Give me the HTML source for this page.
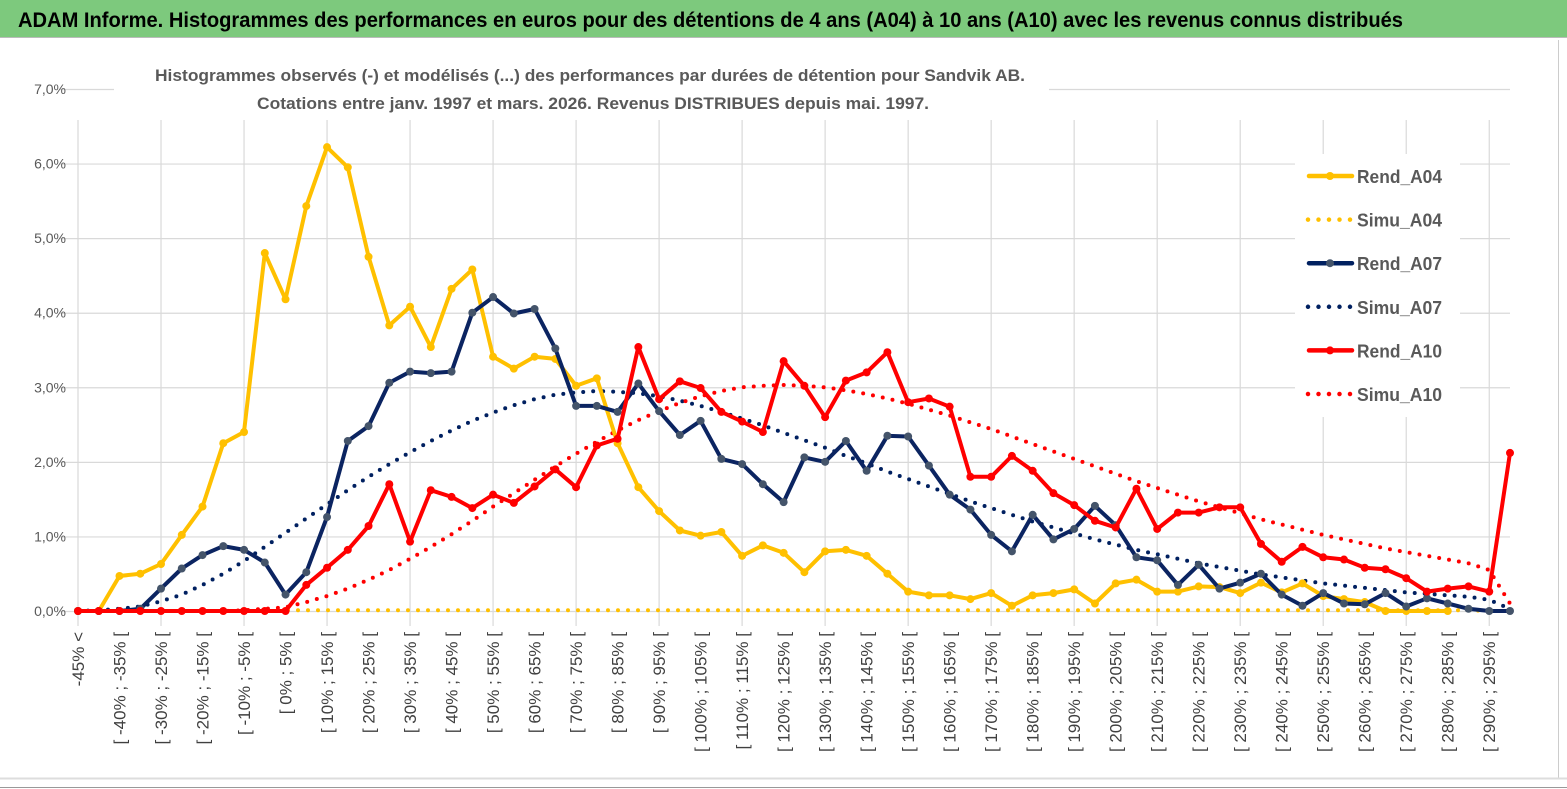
<!DOCTYPE html>
<html><head><meta charset="utf-8"><style>
html,body{margin:0;padding:0;background:#fff;}
svg{display:block;font-family:"Liberation Sans",sans-serif;}
</style></head><body>
<svg id="chart" width="1567" height="789" viewBox="0 0 1567 789" xmlns="http://www.w3.org/2000/svg">
<rect x="0" y="0" width="1567" height="789" fill="#fff"/>
<rect x="0" y="0" width="1567" height="37" fill="#7dc97d"/>
<line x1="0" y1="37.5" x2="1567" y2="37.5" stroke="#bbb" stroke-width="1"/>
<text x="18" y="27" font-size="21" font-weight="bold" fill="#000" textLength="1385" lengthAdjust="spacingAndGlyphs">ADAM Informe. Histogrammes des performances en euros pour des détentions de 4 ans (A04) à 10 ans (A10) avec les revenus connus distribués</text>
<line x1="1558.5" y1="40" x2="1558.5" y2="778" stroke="#ccc"/>
<line x1="0" y1="778.5" x2="1567" y2="778.5" stroke="#ddd" stroke-width="2"/>
<line x1="0" y1="787.5" x2="1567" y2="787.5" stroke="#999" stroke-width="1"/>
<g id="grid"></g>
<g id="yaxis"></g>
<g id="xaxis"></g>
<rect x="114" y="55" width="935" height="64" fill="#fff"/>
<text x="590" y="81" text-anchor="middle" font-size="17" font-weight="bold" fill="#595959" textLength="870" lengthAdjust="spacingAndGlyphs">Histogrammes observés (-) et modélisés (...) des performances par durées de détention pour Sandvik AB.</text>
<text x="593" y="109" text-anchor="middle" font-size="17" font-weight="bold" fill="#595959" textLength="672" lengthAdjust="spacingAndGlyphs">Cotations entre janv. 1997 et mars. 2026. Revenus DISTRIBUES depuis mai. 1997.</text>
<rect x="1295" y="154" width="165" height="263" fill="#fff"/>
<g id="series"></g>
<g id="legend"></g>
</svg>
<script>
const rendA04 = [0,0,0.47,0.5,0.63,1.02,1.4,2.25,2.4,4.8,4.18,5.43,6.22,5.95,4.75,3.83,4.08,3.54,4.32,4.58,3.41,3.25,3.41,3.38,3.02,3.12,2.25,1.66,1.34,1.08,1.01,1.06,0.74,0.88,0.78,0.52,0.8,0.82,0.74,0.5,0.26,0.21,0.21,0.16,0.24,0.07,0.21,0.24,0.29,0.1,0.37,0.42,0.26,0.26,0.33,0.32,0.24,0.38,0.25,0.37,0.2,0.16,0.12,0.0,0.0,0.0,0.0,null,null,null];
const simuA04 = [0,0,0,0,0,0,0,0,0,0,0.01,0.01,0.01,0.01,0.01,0.01,0.01,0.01,0.01,0.01,0.01,0.01,0.01,0.01,0.01,0.01,0.01,0.01,0.01,0.01,0.01,0.01,0.01,0.01,0.01,0.01,0.01,0.01,0.01,0.01,0.01,0.01,0.01,0.01,0.01,0.01,0.01,0.01,0.01,0.01,0.01,0.01,0.01,0.01,0.01,0.01,0.01,0.01,0.01,0.01,0.01,0.01,0.01,0.01,0.01,0.01,0.01,0.01,0,0];
const rendA07 = [0,0,0,0.03,0.3,0.57,0.75,0.87,0.82,0.65,0.22,0.52,1.26,2.28,2.48,3.06,3.21,3.19,3.21,4.0,4.21,3.99,4.05,3.52,2.75,2.75,2.67,3.05,2.68,2.36,2.55,2.04,1.97,1.7,1.46,2.06,2.0,2.28,1.88,2.35,2.34,1.95,1.56,1.36,1.02,0.8,1.29,0.96,1.1,1.41,1.15,0.72,0.68,0.35,0.62,0.3,0.38,0.5,0.22,0.07,0.24,0.1,0.09,0.24,0.06,0.17,0.1,0.03,0.0,0.0];
const simuA07 = [0,0.01,0.03,0.06,0.13,0.22,0.35,0.5,0.67,0.86,1.05,1.24,1.43,1.62,1.8,1.97,2.13,2.28,2.42,2.55,2.66,2.76,2.84,2.9,2.93,2.95,2.94,2.92,2.88,2.82,2.75,2.67,2.58,2.49,2.39,2.29,2.19,2.08,1.98,1.87,1.77,1.67,1.57,1.47,1.38,1.29,1.2,1.12,1.04,0.96,0.89,0.82,0.76,0.7,0.64,0.59,0.54,0.49,0.45,0.41,0.37,0.34,0.31,0.28,0.25,0.23,0.21,0.19,0.15,0.03];
const rendA10 = [0,0,0,0,0,0,0,0,0,0,0,0.35,0.58,0.82,1.14,1.7,0.93,1.62,1.53,1.38,1.56,1.45,1.67,1.9,1.66,2.22,2.31,3.54,2.84,3.08,2.99,2.67,2.54,2.4,3.35,3.02,2.6,3.09,3.2,3.47,2.8,2.85,2.74,1.8,1.8,2.08,1.88,1.58,1.42,1.21,1.12,1.64,1.1,1.32,1.32,1.39,1.39,0.9,0.66,0.86,0.72,0.69,0.58,0.56,0.44,0.26,0.3,0.33,0.26,2.12];
const simuA10 = [0,0,0,0,0,0,0,0,0.01,0.03,0.05,0.12,0.2,0.3,0.42,0.55,0.7,0.86,1.03,1.21,1.4,1.58,1.76,1.94,2.11,2.27,2.42,2.56,2.68,2.79,2.88,2.95,3.0,3.02,3.03,3.02,3.0,2.96,2.91,2.85,2.78,2.7,2.62,2.53,2.44,2.34,2.24,2.14,2.04,1.94,1.84,1.74,1.65,1.56,1.47,1.39,1.31,1.23,1.16,1.09,1.02,0.96,0.9,0.84,0.79,0.74,0.69,0.64,0.55,0.1];
const yTicks = [0,1,2,3,4,5,6,7];
const yTickLabels = ["0,0%","1,0%","2,0%","3,0%","4,0%","5,0%","6,0%","7,0%"];
const seriesNames = ["Rend_A04","Simu_A04","Rend_A07","Simu_A07","Rend_A10","Simu_A10"];

const NS="http://www.w3.org/2000/svg";
const N = rendA07.length;
const categories = [];
for(let i=0;i<N;i++){
  if(i===0) categories.push("-45% <");
  else { const lo=-45+5*(i-1); categories.push("[ "+lo+"% ; "+(lo+5)+"% ["); }
}
const X0=78, X1=1510, Y0=611, Y7=89;
function xs(i){return X0+i*(X1-X0)/(N-1);}
function ys(v){return Y0-(v/7)*(Y0-Y7);}
function mk(tag,attrs,parent){const e=document.createElementNS(NS,tag);for(const k in attrs)e.setAttribute(k,attrs[k]);parent.appendChild(e);return e;}

const grid=document.getElementById('grid');
yTicks.forEach((t,k)=>{
  const l=mk('line',{x1:60,x2:1510,y1:ys(t)+0.5,y2:ys(t)+0.5,stroke:'#d9d9d9','stroke-width':1.2},grid);
  
  
});
for(let i=0;i<N;i+=4){
  const l=mk('line',{x1:xs(i),x2:xs(i),y1:120,y2:626,stroke:'#d9d9d9','stroke-width':1.2},grid);
  
  
}
const yax=document.getElementById('yaxis');
yTicks.forEach((t,k)=>{
  const tx=mk('text',{x:66,y:ys(t)+5,'text-anchor':'end','font-size':14,fill:'#595959'},yax);
  tx.textContent=yTickLabels[k];
  
  
});
const xax=document.getElementById('xaxis');
categories.forEach((c,i)=>{
  if(i%2) return;
  const x=xs(i)+6, y=632;
  const tx=mk('text',{x:x,y:y,transform:`rotate(-90 ${x} ${y})`,'text-anchor':'end','font-size':17,fill:'#404040'},xax);
  tx.textContent=c;
  
  
});

const sg=document.getElementById('series');
function pathOf(arr){let d='';let pen=false;arr.forEach((v,i)=>{if(v===null){pen=false;return;}d+=(pen?'L':'M')+xs(i).toFixed(1)+' '+ys(v).toFixed(1);pen=true;});return d;}
function dotted(arr,color,name){
  const g=mk('g',{},sg);
  
  
  mk('path',{d:pathOf(arr),fill:'none',stroke:color,'stroke-width':4,'stroke-linecap':'round','stroke-dasharray':'0 10'},g);
}
function solid(arr,color,mcolor,name){
  const g=mk('g',{},sg);
  
  
  mk('path',{d:pathOf(arr),fill:'none',stroke:color,'stroke-width':4,'stroke-linejoin':'round'},g);
  arr.forEach((v,i)=>{if(v===null)return;
    const c=mk('circle',{cx:xs(i),cy:ys(v),r:4,fill:mcolor},g);
    
    
  });
}
dotted(simuA04,'#ffc000','series-simu-a04');
dotted(simuA07,'#002060','series-simu-a07');
dotted(simuA10,'#ff0000','series-simu-a10');
solid(rendA04,'#ffc000','#ffc000','series-rend-a04');
solid(rendA07,'#0b2461','#44546a','series-rend-a07');
solid(rendA10,'#ff0000','#ff0000','series-rend-a10');

const lg=document.getElementById('legend');
const lcol=['#ffc000','#ffc000','#002060','#002060','#ff0000','#ff0000'];
seriesNames.forEach((n,k)=>{
  const y=176+k*43.6;
  const g=mk('g',{},lg);
  
  
  if(k%2===0){
    mk('line',{x1:1309,x2:1352,y1:y,y2:y,stroke:lcol[k],'stroke-width':4.5,'stroke-linecap':'round'},g);
    mk('circle',{cx:1330,cy:y,r:4,fill:k===2?'#44546a':lcol[k]},g);
  } else {
    mk('line',{x1:1308,x2:1352,y1:y,y2:y,stroke:lcol[k],'stroke-width':4.5,'stroke-linecap':'round','stroke-dasharray':'0 10.5'},g);
  }
  const t=mk('text',{x:1357,y:y+7,'font-size':18,'font-weight':'bold',fill:'#595959',textLength:85,lengthAdjust:'spacingAndGlyphs'},g);
  t.textContent=n;
});
</script>
</body></html>
